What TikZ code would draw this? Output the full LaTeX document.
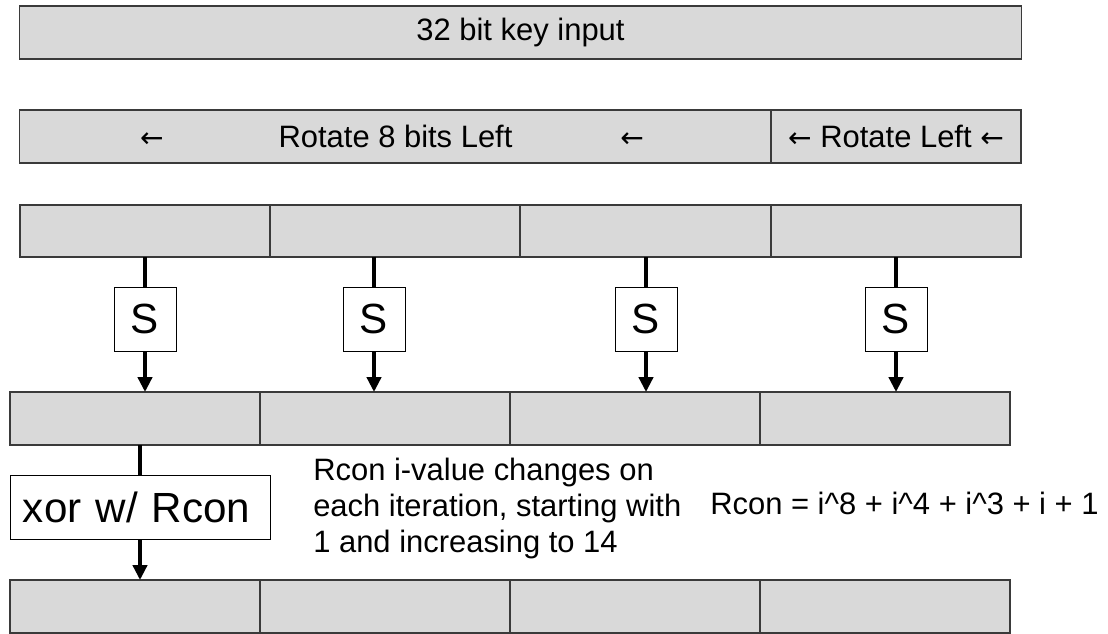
\documentclass[tikz,border=0pt]{standalone}
\usepackage{fontspec}
\setmainfont{Liberation Sans}
\newfontfamily\arrowfont{DejaVu Sans}
\newcommand{\lft}{{\arrowfont\fontsize{20}{24}\selectfont ←}}
\usetikzlibrary{arrows.meta}
\definecolor{cellgray}{HTML}{D9D9D9}
\definecolor{edgegray}{HTML}{3A3A3A}
\tikzstyle{cell} = [draw=edgegray, line width=0.8pt, fill=cellgray, inner sep=0pt, outer sep=0pt, minimum width=6.25cm, minimum height=1.325cm, font=\fontsize{22}{26}\selectfont]
\tikzstyle{sbox} = [draw, line width=0.6pt, fill=white, inner sep=0pt, outer sep=0pt, minimum width=1.55cm, minimum height=1.6cm, font=\fontsize{30}{32}\selectfont]
\tikzstyle{label} = [inner sep=0pt, font=\fontsize{22}{25.6}\selectfont]
\tikzstyle{feed} = [line width=2.85pt]
\tikzstyle{arrow} = [feed, -{Triangle[width=0.35cm,length=0.37cm]}]

\begin{document}
\begin{tikzpicture}[x=0.025cm, y=-0.025cm]
        \useasboundingbox (0,0) rectangle (1108,633);
        % key word and rotation
        \node[cell, minimum width=25.025cm] at (520.5,32.5) (key) {32 bit key input};
        \node[cell, minimum width=18.775cm] at (395.5,136.5) (rot) {Rotate 8 bits Left};
        \node[cell] at (896,136.5) (rotb) {\lft\ Rotate Left \lft};
        \node[label, anchor=base] at ([xshift=-6.0875cm]rot.base) (rotl) {\lft};
        \node[label, anchor=base] at ([xshift=5.9125cm]rot.base) (rotr) {\lft};

        % bytes before substitution
        \node[cell, minimum height=1.3cm] at (145,231) (b1) {};
        \node[cell, minimum height=1.3cm] at (395,231) (b2) {};
        \node[cell, minimum height=1.3cm] at (645.5,231) (b3) {};
        \node[cell, minimum height=1.3cm] at (896,231) (b4) {};

        \node[sbox] at (145,319) (s1) {S};
        \node[sbox] at (374,319) (s2) {S};
        \node[sbox] at (646,319) (s3) {S};
        \node[sbox] at (896,319) (s4) {S};

        % bytes after substitution
        \node[cell] at (135,418.5) (c1) {};
        \node[cell] at (385,418.5) (c2) {};
        \node[cell] at (635,418.5) (c3) {};
        \node[cell] at (885,418.5) (c4) {};

        \draw[feed] (s1.north |- b1.south) -- (s1.north);
        \draw[feed] (s2.north |- b2.south) -- (s2.north);
        \draw[feed] (s3.north |- b3.south) -- (s3.north);
        \draw[feed] (s4.north |- b4.south) -- (s4.north);
        \draw[arrow] (s1.south) -- (s1.south |- c1.north);
        \draw[arrow] (s2.south) -- (s2.south |- c2.north);
        \draw[arrow] (s3.south) -- (s3.south |- c3.north);
        \draw[arrow] (s4.south) -- (s4.south |- c4.north);

        % round constant
        \node[sbox, minimum width=6.5cm, inner xsep=0.325cm, text width=5.85cm, align=left] at (140,507) (xor) {xor w/ Rcon};
        \node[label, anchor=west, align=left] at (313,508) (note) {Rcon i-value changes on\\each iteration, starting with\\1 and increasing to 14};
        \node[label, anchor=west] at (710,503) (poly) {Rcon = i\textasciicircum 8 + i\textasciicircum 4 + i\textasciicircum 3 + i + 1};

        \node[cell] at (135,606.5) (d1) {};
        \node[cell] at (385,606.5) (d2) {};
        \node[cell] at (635,606.5) (d3) {};
        \node[cell] at (885,606.5) (d4) {};

        \draw[feed] (xor.north |- c1.south) -- (xor.north);
        \draw[arrow] (xor.south) -- (xor.south |- d1.north);
    \end{tikzpicture}
\end{document}
